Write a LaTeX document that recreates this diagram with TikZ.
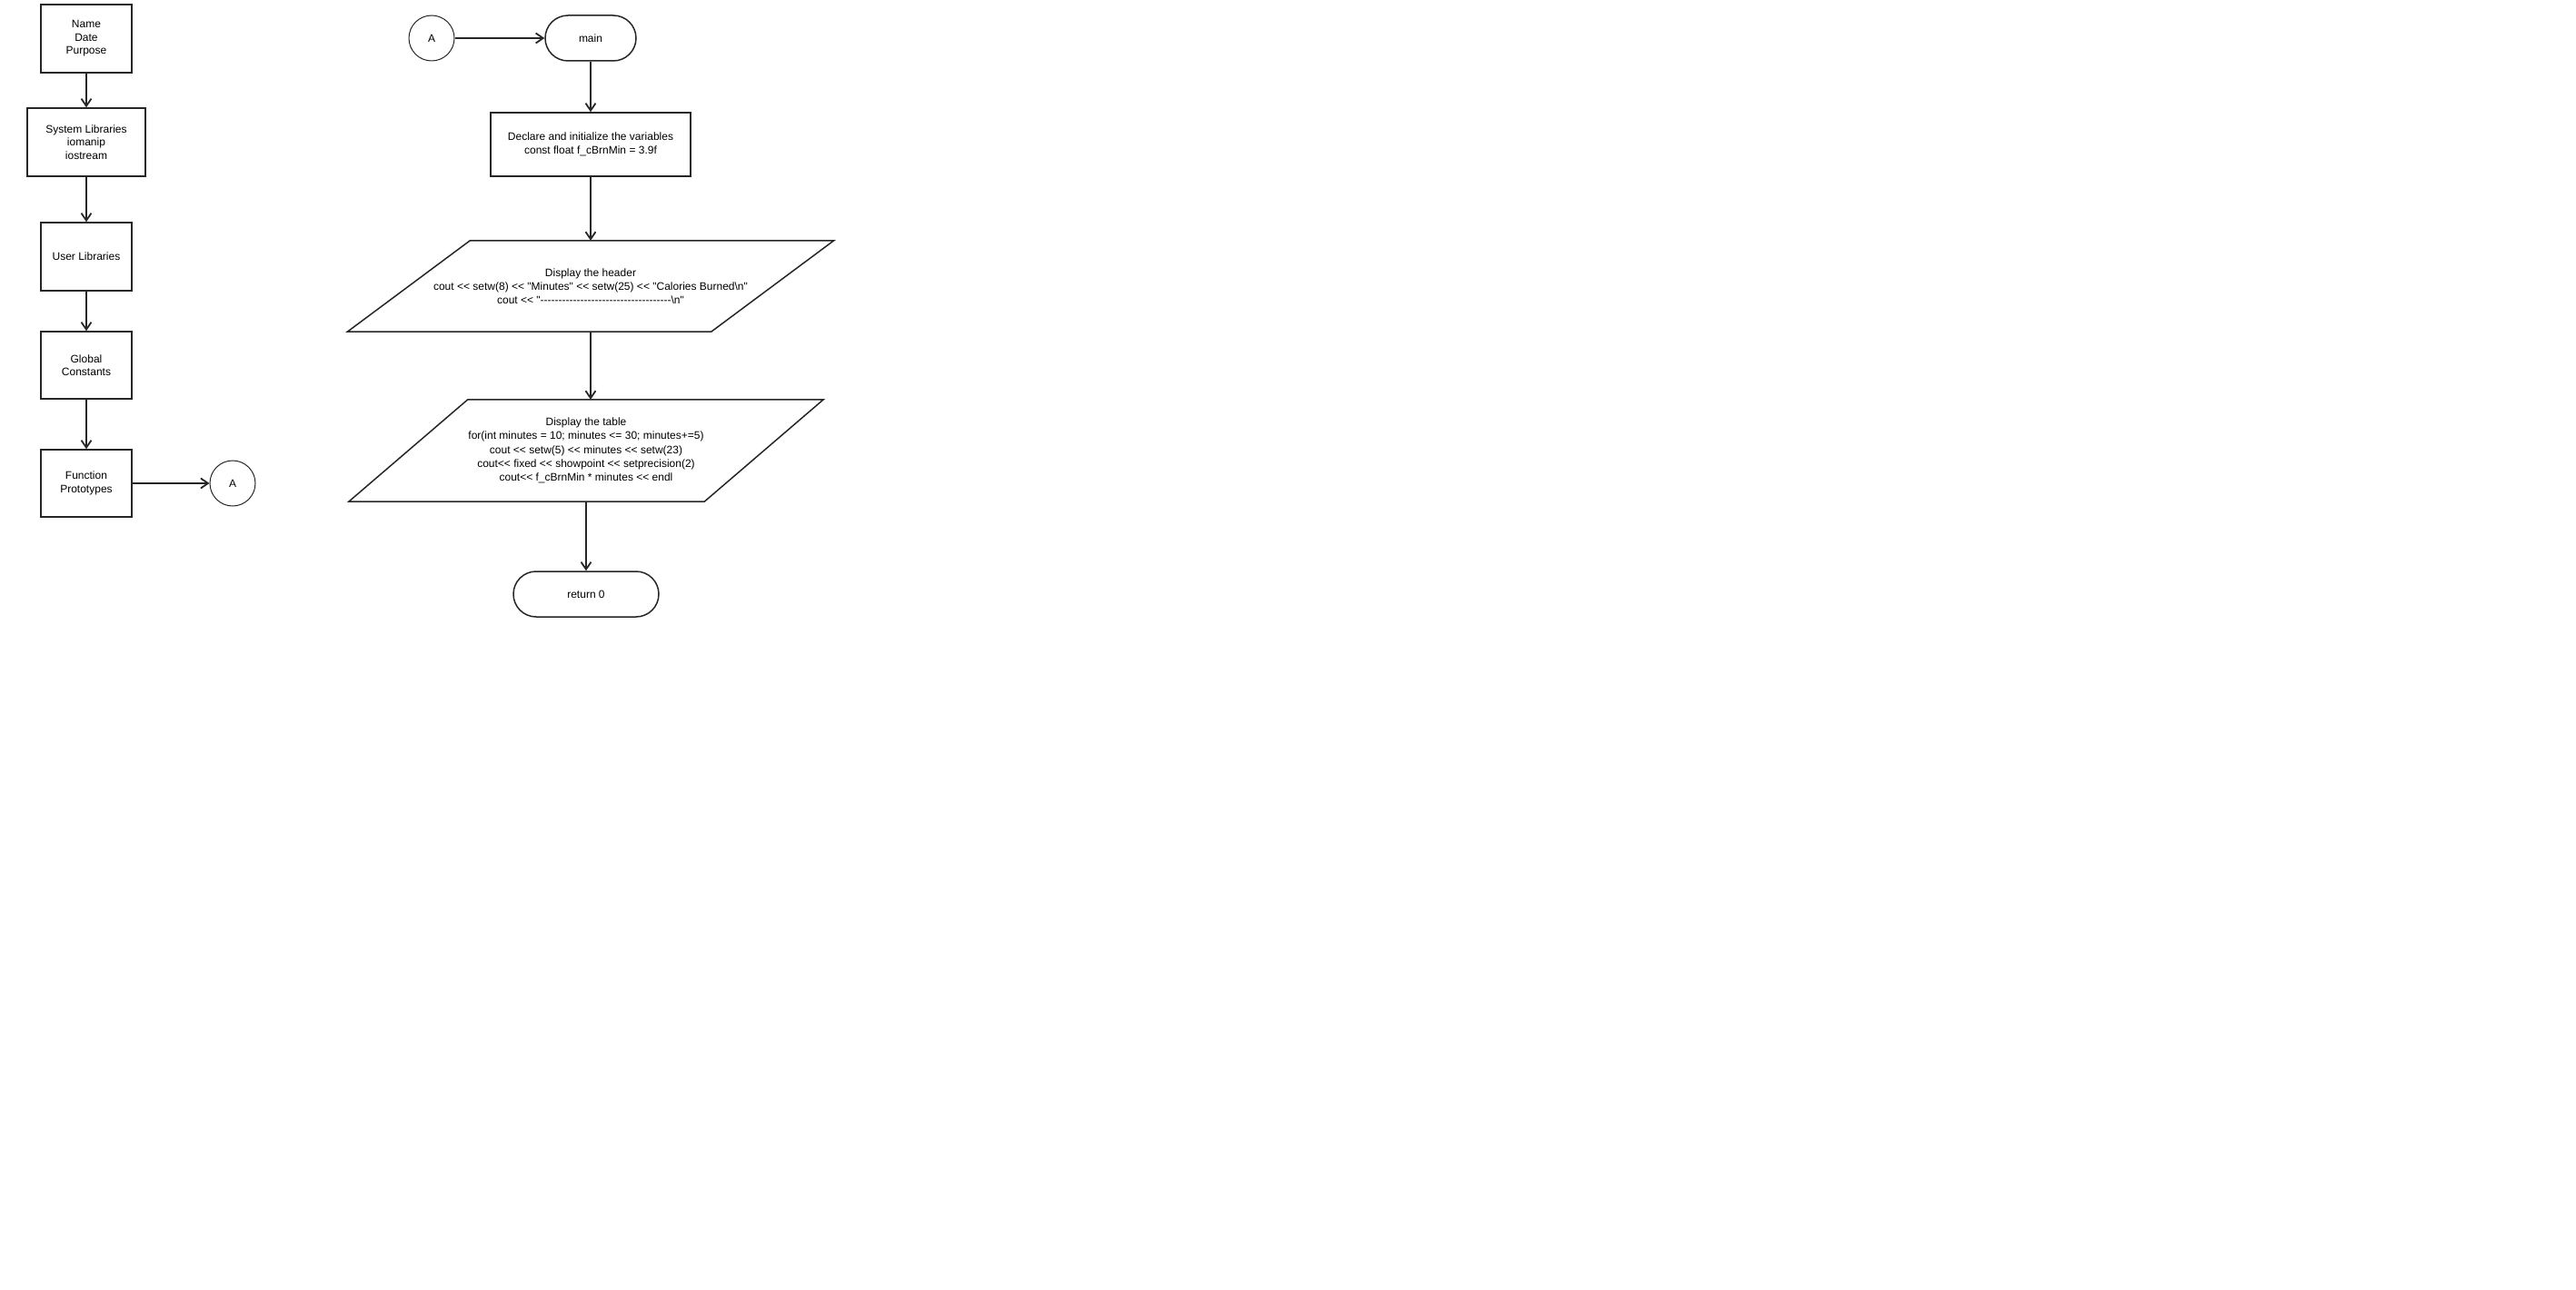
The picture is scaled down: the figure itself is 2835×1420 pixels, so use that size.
\documentclass[tikz,border=0pt]{standalone}
\usepackage{fontspec}
\setmainfont{Liberation Sans}[Ligatures=TeXOff]
\usetikzlibrary{arrows.meta,calc}
\definecolor{lineclr}{HTML}{262626}
\begin{document}
\begin{tikzpicture}[x=1pt,y=-1pt,
  lc/.style={draw=lineclr, line width=1.5pt},
  txt/.style={align=center, font=\fontsize{12}{14.5}\selectfont, inner sep=0pt, text=black},
  box/.style={lc, txt, rectangle},
  term/.style={lc, txt, rectangle, rounded corners=25pt, minimum height=50pt},
  conn/.style={txt, circle, draw=lineclr, line width=1pt, minimum size=50pt},
  ghost/.style={txt, rectangle, font=\fontsize{12}{15.2}\selectfont},
  arr/.style={draw=lineclr, line width=1.8pt, -{Straight Barb[length=8pt,width=11pt,line width=1.8pt]}}
]
\fill[white] (0,0) rectangle (2835,1420);
\useasboundingbox (0,0) rectangle (2835,1420);

% left column
\node[box, minimum width=100pt, minimum height=75pt] (n1) at (95,42.5) {Name\\Date\\Purpose};
\node[box, minimum width=130pt, minimum height=75pt] (n2) at (95,156.5) {System Libraries\\iomanip\\iostream};
\node[box, minimum width=100pt, minimum height=75pt] (n3) at (95,282.5) {User Libraries};
\node[box, minimum width=100pt, minimum height=74pt] (n4) at (95,402) {Global\\Constants};
\node[box, minimum width=100pt, minimum height=74pt] (n5) at (95,532) {Function\\Prototypes};
\node[conn] (a1) at (256,532) {A};

\draw[arr] (n1.south) -- (n2.north);
\draw[arr] (n2.south) -- (n3.north);
\draw[arr] (n3.south) -- (n4.north);
\draw[arr] (n4.south) -- (n5.north);
\draw[arr] (n5.east) -- (a1.west);

% main column
\node[conn] (a2) at (475,42) {A};
\node[term, minimum width=100pt] (main) at (650,42) {main};
\node[box, minimum width=220pt, minimum height=70pt, font=\fontsize{12}{15.5}\selectfont] (decl) at (650,159)
  {Declare and initialize the variables\\const float f\_cBrnMin = 3.9f};

\node[ghost, minimum width=400pt, minimum height=100pt] (hdr) at (650,315)
  {Display the header\\cout << setw(8) << "Minutes" << setw(25) << "Calories Burned\textbackslash n"\\cout << "------------------------------------\textbackslash n"};
\draw[lc] ($(hdr.north west)+(67.5,0)$) -- ($(hdr.north east)+(67.5,0)$)
  -- ($(hdr.south east)+(-67.5,0)$) -- ($(hdr.south west)+(-67.5,0)$) -- cycle;

\node[ghost, minimum width=391pt, minimum height=112pt] (tbl) at (645,496)
  {Display the table\\for(int minutes = 10; minutes <= 30; minutes+=5)\\cout << setw(5) << minutes << setw(23)\\cout<< fixed << showpoint << setprecision(2)\\cout<< f\_cBrnMin * minutes << endl};
\draw[lc] ($(tbl.north west)+(65.5,0)$) -- ($(tbl.north east)+(65.5,0)$)
  -- ($(tbl.south east)+(-65.5,0)$) -- ($(tbl.south west)+(-65.5,0)$) -- cycle;

\node[term, minimum width=160pt] (ret) at (645,654) {return 0};

\draw[arr] (a2.east) -- (main.west);
\draw[arr] (main.south) -- (main.south |- decl.north);
\draw[arr] (decl.south) -- (decl.south |- hdr.north);
\draw[arr] (hdr.south) -- (hdr.south |- tbl.north);
\draw[arr] (tbl.south) -- (ret.north);
\end{tikzpicture}
\end{document}
